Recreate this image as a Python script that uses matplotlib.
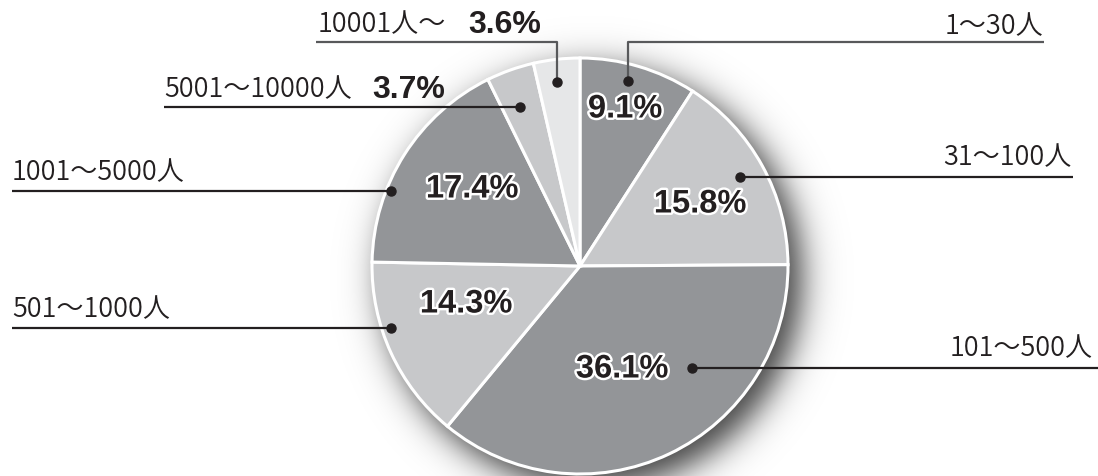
import numpy as np
import matplotlib
matplotlib.use("Agg")
import matplotlib.pyplot as plt
import matplotlib.patheffects as pe

# data
categories = ["1〜30人", "31〜100人", "101〜500人", "501〜1000人",
              "1001〜5000人", "5001〜10000人", "10001人〜"]
shares = [9.1, 15.8, 36.1, 14.3, 17.4, 3.7, 3.6]

# layout (pixel coords, y from top)
W, H = 1098, 477
cx, cy, R = 580, 267, 208
colors = ["#939598", "#c7c8ca", "#939598", "#c7c8ca", "#939598", "#c7c8ca", "#e6e7e8"]
inside_pos = [(625, 110), (700, 205), (622, 370), (466, 305), (472, 190), None, None]
outside_pct = [None, None, None, None, None, (409, 90), (505, 25)]
leaders = [
    [(628, 82), (628, 43), (1044, 43)],
    [(740, 178), (1073, 178)],
    [(692, 369), (1098, 369)],
    [(391, 329), (12, 329)],
    [(391, 192), (12, 192)],
    [(520, 108), (164, 108)],
    [(557, 83), (557, 43), (316, 43)],
]
label_pos = [(1043, 27, "right"), (1072, 158, "right"), (1093, 349, "right"),
             (12, 310, "left"), (12, 173, "left"), (164, 90, "left"), (318, 25, "left")]

jp = ["Noto Sans CJK JP", "DejaVu Sans"]
dark = "#231f20"

fig = plt.figure(figsize=(W / 100, H / 100), dpi=100)
ax = fig.add_axes([0, 0, 1, 1])

# soft shadow behind the pie
xx, yy = np.meshgrid(np.arange(W) + 0.5, np.arange(H) + 0.5)
d = np.hypot(xx - (cx + 12), yy - (cy + 12))
alpha = 0.75 / (1 + np.exp((d - R - 2) / 10.0))
shadow = np.zeros((H, W, 4))
shadow[..., 3] = alpha
ax.imshow(shadow, extent=(0, W, H, 0), origin="upper", zorder=0, interpolation="bilinear")

ax.pie(shares, colors=colors, startangle=-90, counterclock=True,
       center=(cx, cy), radius=R,
       wedgeprops=dict(edgecolor="white", linewidth=2.2), frame=False)

ax.set_xlim(0, W)
ax.set_ylim(H, 0)
ax.set_aspect("equal")
ax.axis("off")

for i, cat in enumerate(categories):
    pts = np.array(leaders[i])
    lc = "#58595b" if i in (0, 6) else dark
    ax.plot(pts[:, 0], pts[:, 1], color=lc, lw=1.6, solid_capstyle="butt", zorder=3)
    ax.plot(pts[0, 0], pts[0, 1], "o", color=dark, ms=6.5, zorder=4)
    lx, ly, ha = label_pos[i]
    ax.text(lx, ly, cat, ha=ha, va="center", fontsize=19.5, family=jp,
            fontweight=350, color=dark, zorder=5)
    pct = f"{shares[i]:.1f}%"
    if inside_pos[i] is not None:
        px, py = inside_pos[i]
        ax.text(px, py, pct, ha="center", va="center", fontsize=23.5, fontweight="bold",
                family=["Liberation Sans", "DejaVu Sans"], color=dark, zorder=5,
                path_effects=[pe.withStroke(linewidth=3.5, foreground="white")])
    else:
        px, py = outside_pct[i]
        ax.text(px, py, pct, ha="center", va="center", fontsize=23, fontweight="bold",
                family=["Liberation Sans", "DejaVu Sans"], color=dark, zorder=5)

fig.savefig("out.png", dpi=100, facecolor="white")
